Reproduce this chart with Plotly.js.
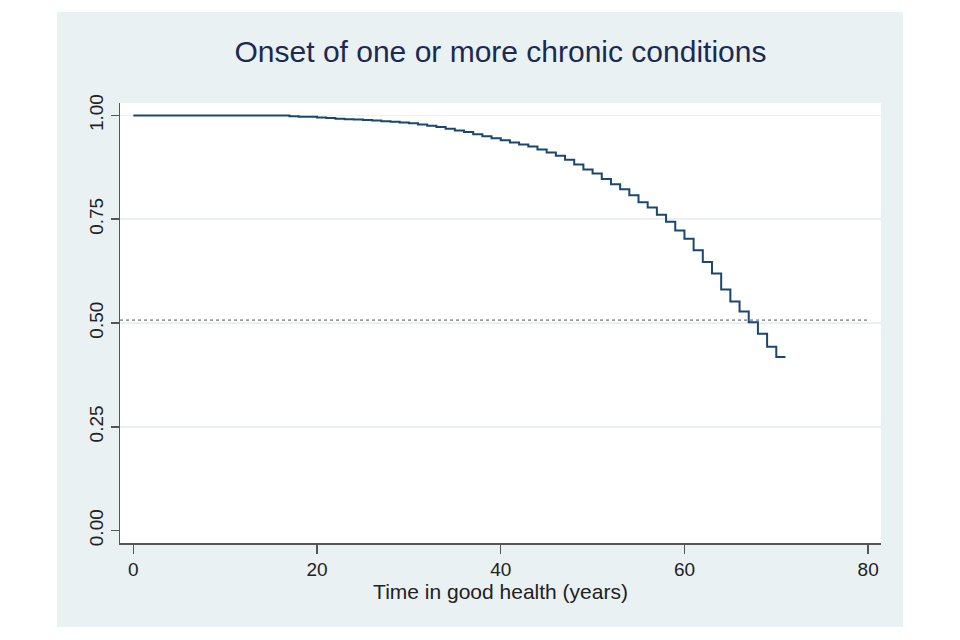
<!DOCTYPE html>
<html>
<head>
<meta charset="utf-8">
<script src="https://cdn.plot.ly/plotly-3.0.1.min.js"></script>
<style>
  html, body { margin: 0; padding: 0; background: #ffffff; }
  #chart { position: absolute; left: 57px; top: 12px; width: 846px; height: 615px; }
</style>
</head>
<body>
<div id="chart"></div>
<script>
// Kaplan-Meier style survival estimate: time (years) and survival probability
const timeYears = [0,1,2,3,4,5,6,7,8,9,10,11,12,13,14,15,16,17,18,19,20,21,22,23,24,25,26,27,28,29,30,
  31,32,33,34,35,36,37,38,39,40,41,42,43,44,45,46,47,48,49,50,51,52,53,54,55,56,57,58,59,60,
  61,62,63,64,65,66,67,68,69,70,71];
const survival = [1,1,1,1,1,1,1,1,1,1,1,1,1,1,1,1,1,0.998,0.997,0.997,0.995,0.994,0.992,0.991,0.990,0.989,0.988,0.986,0.985,0.983,0.981,
  0.978,0.975,0.972,0.968,0.964,0.960,0.955,0.950,0.945,0.940,0.935,0.930,0.925,0.918,0.911,0.903,0.893,0.882,0.870,0.860,
  0.847,0.834,0.822,0.808,0.791,0.778,0.761,0.744,0.723,0.703,0.675,0.647,0.619,0.581,0.552,0.528,0.502,0.474,0.443,0.418,0.418];

// Reference (median) line
const refX = [-1.45, 80.2];
const refY = [0.507, 0.507];

const xTicks = [0, 20, 40, 60, 80];
const yTicks = [0, 0.25, 0.5, 0.75, 1];
const yTickLabels = ['0.00', '0.25', '0.50', '0.75', '1.00'];

const bg = '#eaf1f3';

const traces = [
  {
    x: refX, y: refY, type: 'scatter', mode: 'lines',
    line: { color: '#505050', width: 1, dash: '3px,3px' },
    hoverinfo: 'skip', showlegend: false
  },
  {
    x: timeYears, y: survival, type: 'scatter', mode: 'lines',
    line: { color: '#1a476f', width: 2, shape: 'hv' },
    showlegend: false
  }
];

const layout = {
  width: 846, height: 615,
  margin: { l: 63, r: 22, t: 91, b: 84 },
  paper_bgcolor: bg,
  plot_bgcolor: '#ffffff',
  font: { family: 'Liberation Sans, Arial, sans-serif', color: '#222222', size: 19 },
  title: {
    text: 'Onset of one or more chronic conditions',
    font: { size: 30, color: '#1c2a52', family: 'Liberation Sans, Arial, sans-serif' },
    xref: 'paper', x: 0.5, xanchor: 'center', y: 0.935, yanchor: 'middle'
  },
  xaxis: {
    range: [-1.45, 81.4],
    tickvals: xTicks,
    ticktext: xTicks.map(String),
    ticks: 'outside', ticklen: 9, tickcolor: '#555555', tickwidth: 1.5,
    showline: true, linecolor: '#555555', linewidth: 1.5,
    showgrid: false, zeroline: false,
    tickfont: { size: 19, color: '#222222' },
    title: { text: 'Time in good health (years)', font: { size: 21, color: '#222222' }, standoff: 0 },
    fixedrange: true
  },
  yaxis: {
    range: [-0.03, 1.03],
    tickvals: yTicks,
    ticktext: yTickLabels,
    tickangle: -90,
    ticks: 'outside', ticklen: 8, tickcolor: '#555555', tickwidth: 1.5,
    showline: true, linecolor: '#555555', linewidth: 1.5,
    showgrid: true, gridcolor: bg, gridwidth: 1.5,
    zeroline: true, zerolinecolor: '#ffffff', zerolinewidth: 1,
    tickfont: { size: 19, color: '#222222' },
    fixedrange: true
  }
};

Plotly.newPlot('chart', traces, layout, { displayModeBar: false, staticPlot: true });
</script>
</body>
</html>
